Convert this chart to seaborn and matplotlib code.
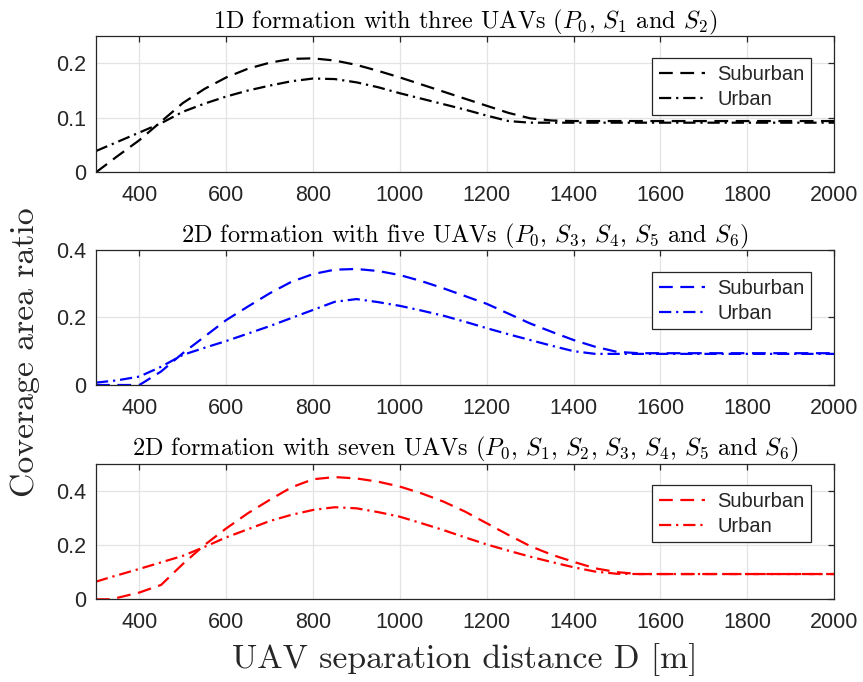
import numpy as np
import pandas as pd
import matplotlib
matplotlib.use("Agg")
import matplotlib.pyplot as plt
import seaborn as sns

# ---------------- data ----------------
D_top = [300, 350, 400, 450, 500, 550, 600, 650, 700, 750, 800, 850, 900, 950, 1000,
         1050, 1100, 1150, 1200, 1250, 1300, 1350, 1400, 1600, 1800, 2000]
top_suburban = [0.0, 0.030, 0.059, 0.093, 0.127, 0.153, 0.174, 0.190, 0.201, 0.208, 0.209,
                0.205, 0.197, 0.186, 0.174, 0.161, 0.148, 0.135, 0.122, 0.109, 0.099,
                0.095, 0.094, 0.094, 0.094, 0.094]
top_urban = [0.039, 0.056, 0.073, 0.090, 0.111, 0.126, 0.139, 0.150, 0.159, 0.167, 0.172,
             0.171, 0.165, 0.156, 0.145, 0.135, 0.125, 0.115, 0.104, 0.094, 0.091,
             0.091, 0.091, 0.091, 0.091, 0.091]

D_mid = [300, 350, 400, 450, 500, 550, 600, 650, 700, 750, 800, 850, 900, 950, 1000,
         1050, 1100, 1150, 1200, 1250, 1300, 1350, 1400, 1450, 1500, 1550, 1600, 1800, 2000]
mid_suburban = [0.0, 0.0, 0.0, 0.040, 0.094, 0.143, 0.192, 0.232, 0.271, 0.305, 0.328,
                0.341, 0.343, 0.337, 0.325, 0.307, 0.286, 0.263, 0.240, 0.211, 0.182,
                0.157, 0.133, 0.113, 0.098, 0.094, 0.094, 0.094, 0.094]
mid_urban = [0.007, 0.014, 0.025, 0.054, 0.089, 0.110, 0.130, 0.152, 0.174, 0.198, 0.222,
             0.246, 0.254, 0.245, 0.234, 0.220, 0.205, 0.187, 0.168, 0.150, 0.133,
             0.116, 0.100, 0.092, 0.092, 0.092, 0.092, 0.092, 0.092]

D_bot = [300, 335, 400, 450, 500, 550, 600, 650, 700, 750, 800, 850, 900, 950, 1000,
         1050, 1100, 1150, 1200, 1250, 1300, 1350, 1400, 1450, 1500, 1550, 1600, 1800, 2000]
bot_suburban = [0.0, 0.0, 0.025, 0.053, 0.130, 0.200, 0.261, 0.317, 0.366, 0.412, 0.442,
                0.450, 0.445, 0.433, 0.415, 0.390, 0.360, 0.323, 0.280, 0.237, 0.196,
                0.164, 0.138, 0.114, 0.100, 0.093, 0.093, 0.093, 0.093]
bot_urban = [0.065, 0.082, 0.112, 0.136, 0.160, 0.193, 0.228, 0.258, 0.288, 0.311, 0.329,
             0.339, 0.335, 0.321, 0.304, 0.280, 0.255, 0.228, 0.202, 0.179, 0.157,
             0.137, 0.118, 0.102, 0.094, 0.093, 0.093, 0.093, 0.093]

titles = [r"1D formation with three UAVs ($P_0$, $S_1$ and $S_2$)",
          r"2D formation with five UAVs ($P_0$, $S_3$, $S_4$, $S_5$ and $S_6$)",
          r"2D formation with seven UAVs ($P_0$, $S_1$, $S_2$, $S_3$, $S_4$, $S_5$ and $S_6$)"]
x_ticks = [400, 600, 800, 1000, 1200, 1400, 1600, 1800, 2000]
x_ticklabels = ["400", "600", "800", "1000", "1200", "1400", "1600", "1800", "2000"]
y_ticks = [[0, 0.1, 0.2], [0, 0.2, 0.4], [0, 0.2, 0.4]]
y_ticklabels = [["0", "0.1", "0.2"], ["0", "0.2", "0.4"], ["0", "0.2", "0.4"]]
y_limits = [0.25, 0.4, 0.5]
colors = ["black", "#0000ff", "#ff0000"]
series_names = ["Suburban", "Urban"]

# ---------------- style ----------------
sns.set_style("white")
plt.rcParams["font.family"] = ["Liberation Sans", "DejaVu Sans"]
plt.rcParams["mathtext.fontset"] = "cm"
plt.rcParams["axes.unicode_minus"] = False

fig = plt.figure(figsize=(8.63, 6.82), dpi=100)
W, H = 863.0, 682.0
ax_left, ax_right = 96, 834
ax_rows = [(36, 172.3), (249.7, 385), (463.5, 599.3)]
legend_tops = [0.839, 0.835, 0.842]

panels = [
    (D_top, top_suburban, top_urban),
    (D_mid, mid_suburban, mid_urban),
    (D_bot, bot_suburban, bot_urban),
]

dash_sub = (0, (6.2, 3.4))
dash_urb = (0, (5.5, 2.2, 1.0, 2.2))
grid_col = "#e3e3e3"
spine_col = "#262626"

for i, (D, sub, urb) in enumerate(panels):
    top, bottom = ax_rows[i]
    ax = fig.add_axes([ax_left / W, 1 - bottom / H, (ax_right - ax_left) / W, (bottom - top) / H])
    df = pd.DataFrame({"D": D * 2, "ratio": sub + urb,
                       "env": [series_names[0]] * len(D) + [series_names[1]] * len(D)})
    sns.lineplot(data=df[df.env == "Suburban"], x="D", y="ratio", ax=ax, color=colors[i],
                 linewidth=1.6, linestyle=dash_sub, label="Suburban", sort=True)
    sns.lineplot(data=df[df.env == "Urban"], x="D", y="ratio", ax=ax, color=colors[i],
                 linewidth=1.6, linestyle=dash_urb, label="Urban", sort=True)
    ax.set_xlim(300, 2000)
    ax.set_ylim(0, y_limits[i])
    ax.set_xticks(x_ticks)
    ax.set_xticklabels(x_ticklabels)
    ax.set_yticks(y_ticks[i])
    ax.set_yticklabels(y_ticklabels[i])
    ax.set_xlabel("")
    ax.set_ylabel("")
    ax.grid(True, color=grid_col, linewidth=0.9)
    ax.set_axisbelow(True)
    for sp in ax.spines.values():
        sp.set_color(spine_col)
        sp.set_linewidth(0.9)
        sp.set_visible(True)
    ax.tick_params(axis="both", direction="in", length=4.5, width=0.9, color=spine_col,
                   top=True, right=True, labelsize=15.5, labelcolor="#262626")
    ax.tick_params(axis="x", pad=9)
    ax.tick_params(axis="y", pad=7)
    ax.set_title(titles[i], fontfamily="cmr10", fontsize=17.5, pad=5.5, color="black")
    leg = ax.legend(loc="upper right", bbox_to_anchor=(0.969, legend_tops[i]),
                    borderaxespad=0, fontsize=14.5, frameon=True, fancybox=False,
                    edgecolor=spine_col, framealpha=1, handlelength=2.3,
                    handletextpad=0.6, labelspacing=0.3, borderpad=0.33)
    leg.get_frame().set_linewidth(0.9)

fig.text(465 / W, 1 - 660 / H, "UAV separation distance D [m]", fontfamily="cmr10",
         fontsize=24.3, ha="center", va="center")
fig.text(25 / W, 1 - 352 / H, "Coverage area ratio", fontfamily="cmr10",
         fontsize=24.3, ha="center", va="center", rotation=90)

fig.savefig("out.png", dpi=100)
